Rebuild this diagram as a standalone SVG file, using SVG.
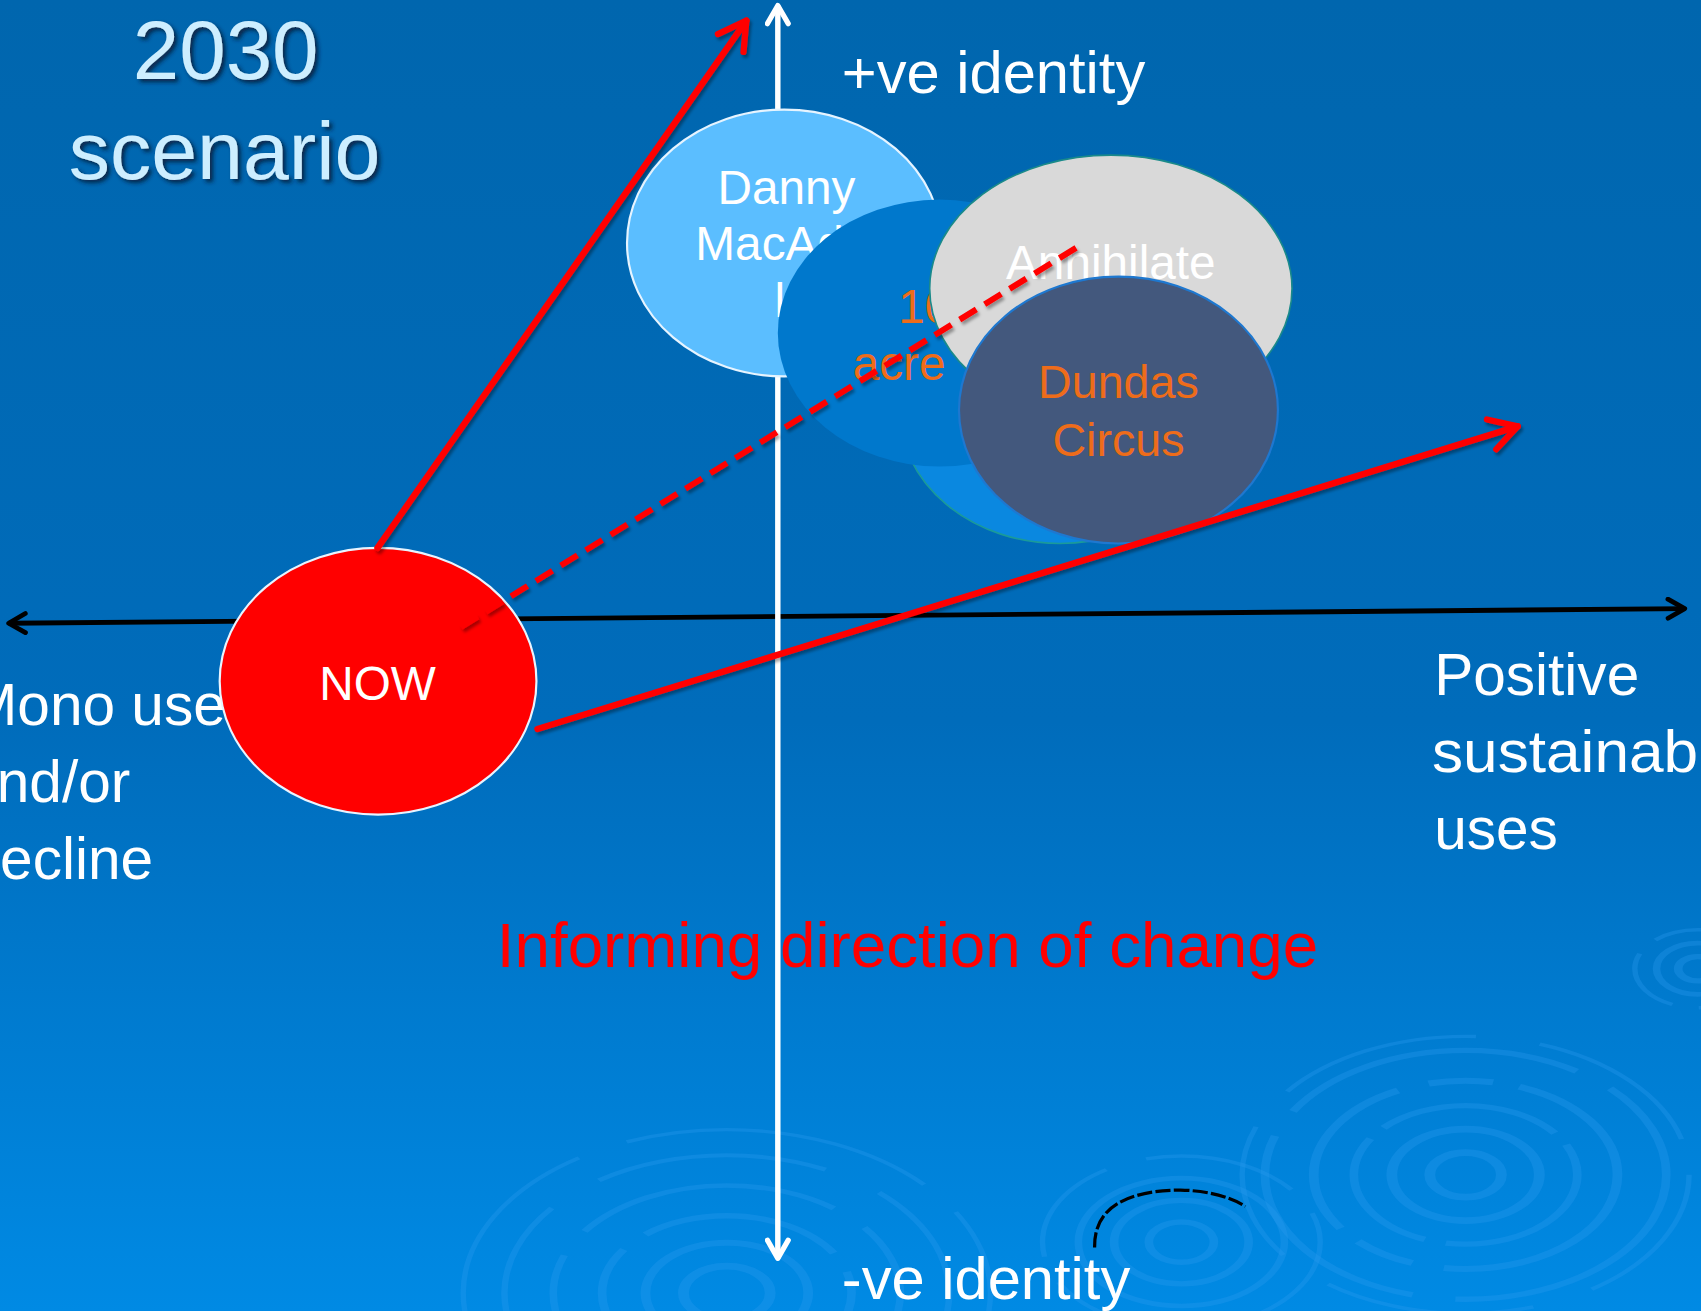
<svg xmlns="http://www.w3.org/2000/svg" width="1701" height="1311" viewBox="0 0 1701 1311">
<defs>
<linearGradient id="bg" x1="0" y1="0" x2="0" y2="1">
<stop offset="0" stop-color="#0066AE"/>
<stop offset="0.55" stop-color="#006CBB"/>
<stop offset="1" stop-color="#008AE4"/>
</linearGradient>
<filter id="shadow" x="-10%" y="-10%" width="130%" height="130%">
<feGaussianBlur in="SourceAlpha" stdDeviation="2"/>
<feOffset dx="3" dy="3" result="b"/>
<feFlood flood-color="#0a1e3c" flood-opacity="0.9"/>
<feComposite in2="b" operator="in"/>
<feMerge><feMergeNode/><feMergeNode in="SourceGraphic"/></feMerge>
</filter>
<filter id="lineShadow" x="-5%" y="-5%" width="110%" height="110%">
<feGaussianBlur in="SourceAlpha" stdDeviation="1.5"/>
<feOffset dx="2" dy="3" result="b"/>
<feFlood flood-color="#000000" flood-opacity="0.35"/>
<feComposite in2="b" operator="in"/>
<feMerge><feMergeNode/><feMergeNode in="SourceGraphic"/></feMerge>
</filter>
<marker id="redHead" viewBox="0 0 20 20" refX="17" refY="10" markerWidth="36" markerHeight="36" markerUnits="userSpaceOnUse" orient="auto">
<path d="M3,2 L17,10 L3,18" fill="none" stroke="#FF0000" stroke-width="3.2" stroke-linecap="round" stroke-linejoin="round"/>
</marker>
<marker id="blackHead" viewBox="0 0 20 20" refX="17" refY="10" markerWidth="22" markerHeight="22" markerUnits="userSpaceOnUse" orient="auto-start-reverse">
<path d="M3,2 L17,10 L3,18" fill="none" stroke="#000000" stroke-width="4" stroke-linecap="round" stroke-linejoin="round"/>
</marker>
<marker id="whiteHead" viewBox="0 0 20 20" refX="17" refY="10" markerWidth="24" markerHeight="24" markerUnits="userSpaceOnUse" orient="auto-start-reverse">
<path d="M3,2 L17,10 L3,18" fill="none" stroke="#FFFFFF" stroke-width="4" stroke-linecap="round" stroke-linejoin="round"/>
</marker>
</defs>
<style>
.t{font-family:"Liberation Sans",Arial,sans-serif}
.w{fill:#FFFFFF}
.o{fill:#EE6C1A}
.ring{fill:none;stroke:#2A9BF0;stroke-opacity:0.32}
</style>
<rect x="0" y="0" width="1701" height="1311" fill="url(#bg)"/>
<g transform="scale(1.08482)">
<g id="ripples">
<g transform="translate(1351,1083) scale(1,0.62)">
<circle class="ring" r="33" stroke-width="10"/>
<circle class="ring" r="68" stroke-width="10"/>
<circle class="ring" r="103" stroke-width="8" stroke-dasharray="180 20"/>
<circle class="ring" r="140" stroke-width="9" stroke-dasharray="240 30 60 25"/>
<circle class="ring" r="185" stroke-width="8" stroke-dasharray="300 40"/>
<circle class="ring" r="206" stroke-width="5" stroke-dasharray="200 60"/>
</g>
<g transform="translate(1089,1145) scale(1,0.62)">
<circle class="ring" r="30" stroke-width="8"/>
<circle class="ring" r="62" stroke-width="8"/>
<circle class="ring" r="95" stroke-width="7"/>
<circle class="ring" r="128" stroke-width="5" stroke-dasharray="150 40"/>
</g>
<g transform="translate(670,1192) scale(1,0.62)">
<circle class="ring" r="40" stroke-width="10"/>
<circle class="ring" r="75" stroke-width="9"/>
<circle class="ring" r="115" stroke-width="8" stroke-dasharray="200 30"/>
<circle class="ring" r="160" stroke-width="7" stroke-dasharray="260 40"/>
<circle class="ring" r="205" stroke-width="6" stroke-dasharray="220 60"/>
<circle class="ring" r="243" stroke-width="5" stroke-dasharray="300 50"/>
</g>
<g transform="translate(1565,893) scale(1,0.62)">
<circle class="ring" r="18" stroke-width="8"/>
<circle class="ring" r="38" stroke-width="7"/>
<circle class="ring" r="58" stroke-width="5" stroke-dasharray="90 25"/>
</g>
<path d="M1009,1150 Q1008,1098 1088,1097 Q1125,1098 1148,1112" fill="none" stroke="#000000" stroke-width="3" stroke-dasharray="14 3"/>
</g>
<g id="title" class="t" filter="url(#shadow)" fill="#CDEEFF" text-anchor="middle">
<text x="208" y="73" font-size="77">2030</text>
<text x="207" y="165" font-size="76">scenario</text>
</g>
<g id="axes">
<line x1="8" y1="574.5" x2="1553" y2="561" stroke="#000000" stroke-width="4.5" marker-start="url(#blackHead)" marker-end="url(#blackHead)"/>
<line x1="717" y1="5" x2="717" y2="1160" stroke="#FFFFFF" stroke-width="5" marker-start="url(#whiteHead)" marker-end="url(#whiteHead)"/>
</g>
<g id="label-left" class="t w" font-size="54">
<text x="-29" y="668">Mono use</text>
<text x="-33" y="739">and/or</text>
<text x="-30" y="810">decline</text>
</g>
<g id="node-danny">
<ellipse cx="723" cy="224" rx="145" ry="123" fill="#5BBEFF" stroke="#E6F4FF" stroke-width="2"/>
<text class="t w" x="725" y="188" font-size="44" text-anchor="middle">Danny</text>
<text class="t w" x="641" y="240" font-size="44">MacAdam</text>
<text class="t w" x="714" y="292" font-size="44">l</text>
</g>
<g id="node-back">
<ellipse cx="977" cy="378" rx="148" ry="123" fill="#0A88E0" stroke="#1A9A9A" stroke-width="1.5"/>
</g>
<g id="node-10acre">
<ellipse cx="866" cy="307" rx="149" ry="123" fill="#0078CC"/>
<text class="t o" x="828" y="298" font-size="44">10</text>
<text class="t o" x="786" y="350" font-size="44">acre</text>
</g>
<g id="node-annihilate">
<ellipse cx="1024" cy="266" rx="167" ry="123" fill="#D9D9D9" stroke="#1A8A8A" stroke-width="1.5"/>
<text class="t w" x="1024" y="257" font-size="44" text-anchor="middle">Annihilate</text>
</g>
<g id="node-dundas">
<ellipse cx="1031" cy="378" rx="147" ry="123" fill="#43587D" stroke="#1E78D0" stroke-width="2"/>
<text class="t o" x="1031" y="367" font-size="43" text-anchor="middle">Dundas</text>
<text class="t o" x="1031" y="420" font-size="43" text-anchor="middle">Circus</text>
</g>
<g id="node-now">
<ellipse cx="348.5" cy="628" rx="146" ry="123" fill="#FF0000" stroke="#E8F4FF" stroke-width="2"/>
<text class="t w" x="348" y="645" font-size="44" text-anchor="middle">NOW</text>
</g>
<g id="connectors" fill="none" stroke="#FF0000" stroke-linecap="round" filter="url(#lineShadow)">
<line x1="348" y1="505" x2="688" y2="19" stroke-width="6" marker-end="url(#redHead)"/>
<line x1="495.5" y1="672" x2="1399" y2="393" stroke-width="6" marker-end="url(#redHead)"/>
<line x1="425" y1="578" x2="996" y2="226" stroke-width="5.5" stroke-linecap="butt" stroke-dasharray="18 9"/>
</g>
<g id="label-right" class="t w" font-size="54">
<text x="1322" y="641">Positive</text>
<text x="1320" y="712" textLength="290" lengthAdjust="spacingAndGlyphs">sustainable</text>
<text x="1322" y="783">uses</text>
</g>
<g id="label-top" class="t w" font-size="55">
<text x="776" y="86">+ve identity</text>
</g>
<g id="label-bottom" class="t w" font-size="55">
<text x="776" y="1197">-ve identity</text>
</g>
<g id="caption">
<text class="t" x="458" y="891" font-size="58" fill="#FF0000" textLength="757" lengthAdjust="spacingAndGlyphs">Informing direction of change</text>
</g>
</g>
</svg>
